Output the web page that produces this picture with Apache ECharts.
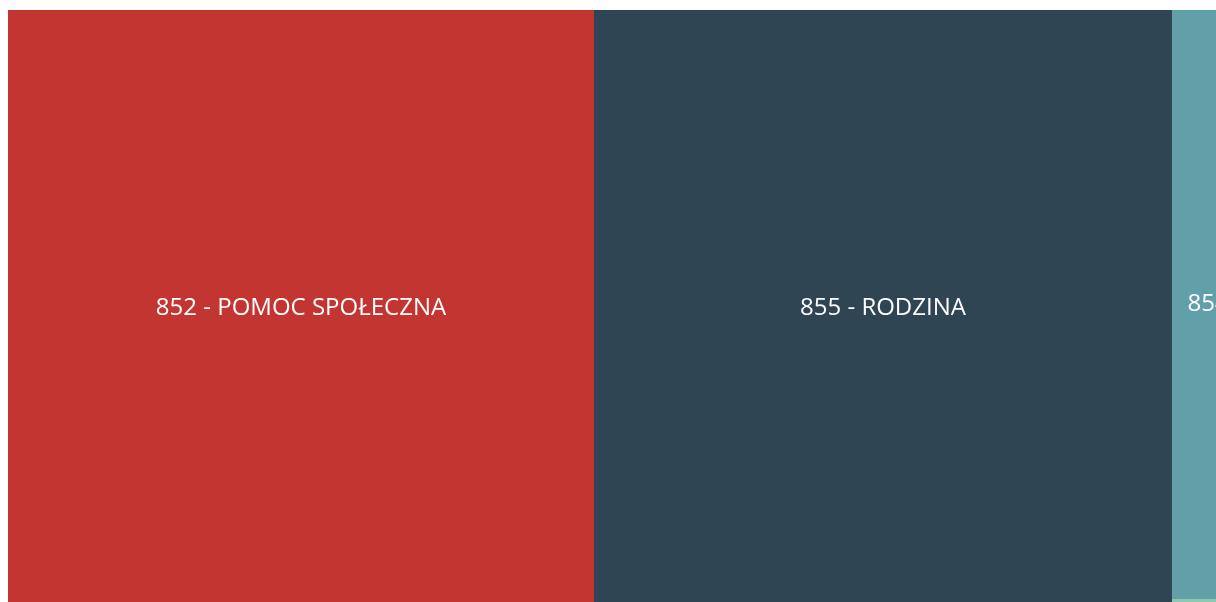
<!DOCTYPE html>
<html>
<head>
<meta charset="utf-8">
<style>
  html, body { margin: 0; padding: 0; background: #ffffff; }
  #chart { width: 1216px; height: 602px; }
</style>
<script src="https://cdn.jsdelivr.net/npm/echarts@6/dist/echarts.min.js"></script>
</head>
<body>
<div id="chart"></div>
<script>
// Budget divisions (names) and their amounts, in thousands of PLN
var divisions = [
  '852 - POMOC SPOŁECZNA',
  '855 - RODZINA',
  '854 - EDUKACYJNA OPIEKA WYCHOWAWCZA',
  '851 - OCHRONA ZDROWIA',
  '853 - POZOSTAŁE ZADANIA W ZAKRESIE POLITYKI SPOŁECZNEJ'
];
var amounts = [34926, 34449, 30923, 14, 354];

// Classic ECharts palette
var palette = ['#c23531', '#2f4554', '#61a0a8', '#d48265', '#91c7ae'];

var nodes = divisions.map(function (name, i) {
  var node = { name: name, value: amounts[i], itemStyle: { color: palette[i] } };
  if (i >= 3) node.label = { show: false };
  return node;
});

var chart = echarts.init(document.getElementById('chart'), null, { renderer: 'canvas' });
chart.setOption({
  animation: false,
  color: palette,
  series: [{
    type: 'treemap',
    left: 8,
    top: 10,
    width: 1689,
    height: 596,
    roam: false,
    nodeClick: false,
    breadcrumb: { show: false },
    itemStyle: { borderWidth: 0, gapWidth: 0 },
    label: {
      show: true,
      position: 'inside',
      color: '#ffffff',
      fontFamily: '"Open Sans", sans-serif',
      fontSize: 24
    },
    data: nodes
  }]
});
</script>
</body>
</html>
